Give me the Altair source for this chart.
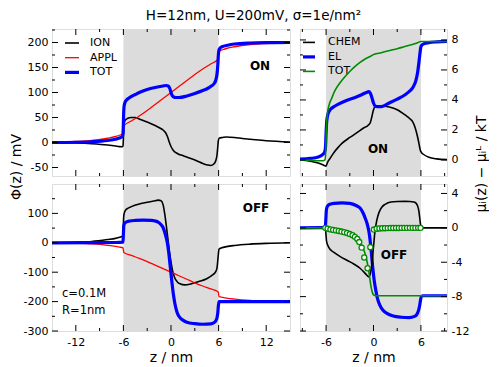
import altair as alt
import pandas as pd

# ---------------- data ----------------
band_z = [-6, 6]

# top-left: ON, potentials / mV
ion_on_z = [-15, -12, -10, -8, -7, -6.5, -6.15, -6.05, -5.97, -5.9, -5.8, -5.5, -5.0, -4.5, -4, -3, -2, -1.4,
            -1.0, -0.7, -0.45, -0.2, 0, 0.3, 0.8, 1.6, 2.5, 3.3, 4.0, 4.6, 5.0, 5.4, 5.65, 5.8, 5.9, 5.97,
            6.1, 6.5, 7, 8, 9, 10, 12, 15]
ion_on_v = [0, -1, -2.5, -5, -7, -8.3, -8.5, -7, 20, 38, 44, 48, 50, 50, 47, 41, 34, 29,
            25, 20, 12, 0, -8, -16, -22, -27, -32, -37, -42, -45, -46, -43, -36, -25, -8, 4,
            9, 10, 11, 10, 8, 6.5, 3.5, 1]
appl_z = [-15, -12, -10, -8, -7, -6.5, -6.05, -5.95, -5, -4, -3, -2, -1, 0, 1, 2, 3, 4, 5, 5.95, 6.05,
          6.5, 7, 8, 10, 12, 15]
appl_on_v = [0.5, 2, 4, 8.5, 12, 14.5, 17, 33, 43, 53, 64, 76, 88, 100, 112, 124, 136, 147, 157, 167, 183,
             185.5, 188, 191.5, 196, 198, 199.5]
tot_on_z = [-15, -12, -10, -8, -7, -6.5, -6.15, -6.05, -6.0, -5.95, -5.9, -5.8, -5.6, -5.3, -5.0, -4.5, -4,
            -3, -2, -1, -0.6, -0.35, -0.15, 0, 0.15, 0.35, 0.6, 1, 2, 3, 4, 4.6, 5.0, 5.4, 5.65, 5.8, 5.9,
            5.97, 6.05, 6.2, 6.5, 7, 8, 10, 12, 15]
tot_on_v = [0, 0.5, 1.5, 4, 6.5, 9, 12, 18, 40, 65, 74, 80, 85, 89, 92, 96, 100,
            106, 110, 113, 114, 113, 108, 100, 94, 91, 90, 90, 93, 98, 104, 108, 112, 117, 125, 137, 155,
            175, 185, 189, 192, 194, 197, 199, 199.7, 200]

# bottom-left: OFF, potentials / mV
ion_off_z = [-15, -12, -10, -8, -7, -6.5, -6.05, -5.97, -5.9, -5.7, -5.4, -5.0, -4, -3, -2.2, -1.6, -1.25,
             -1.0, -0.8, -0.6, -0.4, -0.2, 0, 0.2, 0.45, 0.8, 1.2, 1.7, 2.5, 3.5, 4.5, 5.2, 5.6, 5.8, 5.93,
             6.05, 6.4, 7, 8, 10, 12, 15]
ion_off_v = [0, 2, 4.5, 11, 15, 19, 23, 85, 100, 112, 118, 123, 132, 138, 142, 145, 143,
             130, 100, 60, 15, -30, -65, -95, -118, -133, -140, -143, -140, -132, -122, -110, -100, -85, -50,
             -22, -17, -13, -9, -4.5, -2, 0]
appl_off_v = [-0.5, -2, -4, -8.5, -12, -14.5, -17, -33, -43, -53, -64, -76, -88, -100, -112, -124, -136,
              -147, -157, -167, -183, -185.5, -188, -191.5, -196, -198, -199.5]
tot_off_z = [-15, -10, -7, -6.05, -6.0, -5.95, -5.85, -5.6, -5.2, -4.5, -3.5, -2.5, -2.0, -1.6, -1.3, -1.0,
             -0.75, -0.5, -0.3, -0.1, 0.1, 0.3, 0.5, 0.75, 1.0, 1.5, 2.0, 3.0, 4.0, 5.0, 5.4, 5.65, 5.8,
             5.9, 5.97, 6.05, 7, 10, 15]
tot_off_v = [0, 0.5, 1, 2, 30, 58, 66, 71, 74, 76, 77, 76, 74, 70, 63, 52,
             32, 5, -30, -80, -130, -175, -208, -235, -250, -263, -270, -275, -277, -276, -272, -265, -255,
             -238, -215, -200, -200, -200, -200]

# top-right: ON, chemical potentials / kT
chem_on_z = [-9.3, -8, -7, -6.5, -6.2, -6.05, -5.95, -5.8, -5.5, -5.0, -4.5, -4, -3, -2, -1.2, -0.7, -0.4,
             -0.2, 0, 0.2, 0.5, 1, 2, 3, 4, 4.6, 5.0, 5.3, 5.55, 5.75, 5.9, 6.05, 6.3, 7, 8, 9.3]
chem_on_v = [0, -0.08, -0.2, -0.3, -0.38, -0.42, -0.35, -0.15, 0.1, 0.5, 0.82, 1.1, 1.5, 1.85, 2.15, 2.3,
             2.5, 2.9, 3.35, 3.55, 3.6, 3.6, 3.53, 3.35, 3.0, 2.75, 2.5, 2.1, 1.6, 1.1, 0.7, 0.5, 0.38, 0.18,
             0.07, 0.02]
el_on_z = [-9.3, -8, -7, -6.5, -6.2, -6.08, -6.0, -5.93, -5.85, -5.7, -5.4, -5.0, -4.5, -3.5, -2.4, -1.5,
           -0.9, -0.6, -0.4, -0.2, 0, 0.2, 0.5, 1, 2, 3, 4, 4.6, 5.0, 5.35, 5.6, 5.77, 5.9, 5.98, 6.1, 6.4,
           7, 8, 9.3]
el_on_v = [0.05, 0.1, 0.2, 0.33, 0.5, 0.8, 1.8, 2.5, 2.85, 3.15, 3.4, 3.55, 3.7, 3.95, 4.15, 4.35,
           4.5, 4.55, 4.45, 4.15, 3.8, 3.6, 3.55, 3.56, 3.8, 4.05, 4.35, 4.6, 4.85, 5.27, 5.9, 6.6, 7.2,
           7.5, 7.65, 7.75, 7.82, 7.87, 7.9]
mtot_on_z = [-9.3, -8, -7, -6.4, -6.15, -6.05, -6.0, -5.95, -5.85, -5.6, -5.3, -4.9, -4.3, -3.7, -3,
             -2.4, -1.7, -1.15, -0.5, 0.1, 1, 1.8, 3, 3.9, 4.8, 5.6, 6.0, 7, 9.3]
mtot_on_v = [0, -0.02, -0.05, -0.05, 0.0, 0.5, 1.5, 2.3, 3.0, 3.7, 4.1, 4.6, 5.1, 5.5, 5.9,
             6.2, 6.5, 6.7, 6.88, 7.04, 7.15, 7.27, 7.42, 7.55, 7.68, 7.82, 7.9, 7.9, 7.9]

# bottom-right: OFF, chemical potentials / kT
chem_off_z = [-9.3, -6.1, -6.02, -5.95, -5.8, -5.5, -5.0, -4.2, -3.3, -2.5, -1.7, -1.2, -0.9, -0.7, -0.55,
              -0.4, -0.2, 0, 0.2, 0.4, 0.7, 1.05, 1.4, 1.7, 2.2, 3, 4, 4.6, 5.1, 5.4, 5.6, 5.75, 5.87, 5.95,
              6.05, 9.3]
chem_off_v = [0, 0, -0.7, -1.5, -2.0, -2.5, -2.85, -3.35, -3.8, -4.2, -4.7, -5.15, -5.45, -5.65, -5.7,
              -5.3, -4.2, -2.2, -0.3, 0.8, 1.8, 2.4, 2.7, 2.85, 3.0, 3.07, 3.08, 3.07, 3.0, 2.85, 2.5, 1.9,
              1.0, 0.4, 0, 0]
el_off_z = [-9.3, -6.1, -6.03, -5.97, -5.9, -5.75, -5.5, -5.0, -4, -3, -2.2, -1.7, -1.3, -1.0, -0.75, -0.5,
            -0.3, -0.1, 0.1, 0.3, 0.5, 0.8, 1.2, 1.7, 2.5, 3.5, 4.5, 5.2, 5.5, 5.7, 5.85, 5.95, 6.05, 6.2,
            9.3]
el_off_v = [0, 0.05, 1.0, 2.0, 2.35, 2.6, 2.75, 2.85, 2.9, 2.85, 2.6, 2.3, 1.7, 1.0, 0.3, -0.9,
            -2.6, -4.6, -6.2, -7.3, -8.2, -9.0, -9.6, -9.95, -10.25, -10.4, -10.45, -10.3, -10.05, -9.6,
            -9.0, -8.4, -8.0, -7.9, -7.9]
mtot_off_z = [-9.3, -6.0, -5.4, -4.8, -4.2, -3.6, -2.9, -2.4, -2.0, -1.6, -1.3, -1.0, -0.8, -0.6, -0.45,
              -0.3, -0.15, 0, 0.2, 0.5, 9.3]
mtot_off_v = [0, 0, -0.12, -0.25, -0.43, -0.6, -0.81, -1.05, -1.35, -1.8, -2.4, -3.2, -4.0, -5.0, -6.0,
              -6.9, -7.5, -7.8, -7.88, -7.9, -7.9]
sim_off_z = [-6.1, -5.8, -5.45, -5.1, -4.75, -4.4, -4.05, -3.7, -3.35, -3.0, -2.65, -2.35, -2.05, -1.8,
             -1.5, -1.17, -0.75, -0.4, 0.05, 0.4, 0.75, 1.1, 1.45, 1.8, 2.15, 2.5, 2.85, 3.2, 3.55, 3.9,
             4.25, 4.6, 4.95, 5.3, 5.65, 5.95]
sim_off_v = [0, -0.1, -0.18, -0.24, -0.3, -0.36, -0.43, -0.5, -0.6, -0.72, -0.86, -1.05, -1.3, -1.65,
             -2.3, -3.45, -4.7, -2.25, -0.2, -0.1, -0.07, -0.05, -0.04, -0.03, -0.02, -0.02, -0.01, -0.01,
             0, 0, 0, 0, 0, 0, 0, 0]

# axis ticks
xl_major = [-12, -6, 0, 6, 12]
xl_minor = [-9, -3, 3, 9]
xr_major = [-6, 0, 6]
xr_minor = [-9, -3, 3, 9]
ytl_major = [-50, 0, 50, 100, 150, 200]
ytl_minor = [-25, 25, 75, 125, 175, 225]
ybl_major = [-300, -200, -100, 0, 100]
ybl_minor = [-250, -150, -50, 50, 150]
ytr_major = [0, 2, 4, 6, 8]
ytr_minor = [1, 3, 5, 7]
ybr_major = [-12, -8, -4, 0, 4]
ybr_minor = [-10, -6, -2, 2]

legend_left = ["ION", "APPL", "TOT"]
legend_right = ["CHEM", "EL", "TOT"]

# ---------------- styling ----------------
FONT = "DejaVu Sans"
BLACK, RED, BLUE, GREEN, GRAY = "#000000", "#ff0000", "#0000ff", "#008b00", "#dcdcdc"
LW, RW, H = 238, 147, 147
HYPH = "datum.value < 0 ? '-' + format(-datum.value, 'd') : format(datum.value, 'd')"


def yaxis(values, orient, title=None, title_y=None, title_x=None, angle=None):
    kw = dict(values=values, orient=orient, ticks=False, domain=False, grid=False,
              labelFont=FONT, labelFontSize=11, labelColor="black", labelPadding=4,
              labelExpr=HYPH, labelOverlap=False, title=title)
    if title is not None:
        kw.update(titleFont=FONT, titleFontSize=14, titleFontWeight="normal", titleColor="black",
                  titleY=title_y)
        if title_x is not None:
            kw.update(titleX=title_x, titleBaseline="middle", titleAlign="center")
        if angle is not None:
            kw["titleAngle"] = angle
    return alt.Axis(**kw)


def xaxis(values):
    return alt.Axis(values=values, orient="bottom", ticks=False, domain=False, grid=False,
                    labelFont=FONT, labelFontSize=11, labelColor="black", labelPadding=5,
                    labelExpr=HYPH, labelOverlap=False, labelFlush=False,
                    title="z / nm", titleFont=FONT, titleFontSize=14, titleFontWeight="normal",
                    titleColor="black", titlePadding=3)


def panel(width, xdom, ydom, xax, yax, xmaj, xmin, ymaj, ymin, lines, legend=None, texts=(), points=None):
    xs = alt.Scale(domain=xdom, nice=False, zero=False)
    ys = alt.Scale(domain=ydom, nice=False, zero=False)
    X = lambda f: alt.X(f, scale=xs, axis=xax)
    Y = lambda f: alt.Y(f, scale=ys, axis=yax)
    layers = [alt.Chart(pd.DataFrame({"a": [band_z[0]], "b": [band_z[1]]})).mark_rect(color=GRAY).encode(
        x=X("a:Q"), x2="b:Q", y=alt.value(0), y2=alt.value(H))]
    if legend is not None:
        names, items, x0, x1, tx, y0, dy = legend
        for i, (name, (color, w)) in enumerate(zip(names, items)):
            d = pd.DataFrame({"label": [name]})
            yy = y0 + i * dy
            layers.append(alt.Chart(d).mark_rule(color=color, strokeWidth=w).encode(
                x=alt.value(x0), x2=alt.value(x1), y=alt.value(yy)))
            layers.append(alt.Chart(d).mark_text(align="left", baseline="middle", font=FONT, fontSize=11,
                                                 color="black").encode(
                x=alt.value(tx), y=alt.value(yy), text="label:N"))
    for z, v, color, w in lines:
        layers.append(alt.Chart(pd.DataFrame({"z": z, "v": v})).mark_line(
            color=color, strokeWidth=w, clip=True, interpolate="monotone").encode(x=X("z:Q"), y=Y("v:Q")))
    if points is not None:
        z, v = points
        layers.append(alt.Chart(pd.DataFrame({"z": z, "v": v})).mark_point(
            shape="circle", fill="white", stroke=GREEN, strokeWidth=1.3, size=26, opacity=1,
            fillOpacity=1).encode(x=X("z:Q"), y=Y("v:Q")))
    for vals, ln in ((xmaj, 6), (xmin, 3)):
        base = alt.Chart(pd.DataFrame({"t": vals})).mark_rule(color="black", strokeWidth=1)
        layers.append(base.encode(x=X("t:Q"), y=alt.value(H - ln), y2=alt.value(H)))
        layers.append(base.encode(x=X("t:Q"), y=alt.value(0), y2=alt.value(ln)))
    for vals, ln in ((ymaj, 6), (ymin, 3)):
        base = alt.Chart(pd.DataFrame({"t": vals})).mark_rule(color="black", strokeWidth=1)
        layers.append(base.encode(y=Y("t:Q"), x=alt.value(0), x2=alt.value(ln)))
        layers.append(base.encode(y=Y("t:Q"), x=alt.value(width - ln), x2=alt.value(width)))
    for txt, tx, ty, bold, size, align in texts:
        layers.append(alt.Chart(pd.DataFrame({"label": [txt]})).mark_text(
            align=align, baseline="middle", font=FONT, fontSize=size,
            fontWeight="bold" if bold else "normal", color="black").encode(
            x=alt.value(tx), y=alt.value(ty), text="label:N"))
    return alt.layer(*layers).properties(width=width, height=H)


tl = panel(LW, [-15, 15], [-67, 227], None,
           yaxis(ytl_major, "left", "Φ(z) / mV", 137.5),
           xl_major, xl_minor, ytl_major, ytl_minor,
           [(ion_on_z, ion_on_v, BLACK, 1.6), (appl_z, appl_on_v, RED, 1.3), (tot_on_z, tot_on_v, BLUE, 3.2)],
           legend=(legend_left, [(BLACK, 1.6), (RED, 1.3), (BLUE, 3.2)], 13, 27, 38, 14, 14.7),
           texts=[("ON", 208, 36.7, True, 12, "center")])
bl = panel(LW, [-15, 15], [-300, 200], xaxis(xl_major),
           yaxis(ybl_major, "left"),
           xl_major, xl_minor, ybl_major, ybl_minor,
           [(ion_off_z, ion_off_v, BLACK, 1.6), (appl_z, appl_off_v, RED, 1.3), (tot_off_z, tot_off_v, BLUE, 3.2)],
           texts=[("OFF", 204, 24.4, True, 12, "center"), ("c=0.1M", 10, 110.4, False, 11.5, "left"),
                  ("R=1nm", 10, 127, False, 11.5, "left")])
tr = panel(RW, [-9.3, 9.3], [-1.07, 8.73], None,
           yaxis(ytr_major, "right", "μᵢ(z) − μᵢᴸ / kT", 134.5, title_x=34, angle=270),
           xr_major, xr_minor, ytr_major, ytr_minor,
           [(chem_on_z, chem_on_v, BLACK, 1.6), (el_on_z, el_on_v, BLUE, 3.2), (mtot_on_z, mtot_on_v, GREEN, 1.6)],
           legend=(legend_right, [(BLACK, 1.6), (BLUE, 3.2), (GREEN, 1.6)], 3, 15, 28, 13.4, 14.5),
           texts=[("ON", 78, 120, True, 12, "center")])
br = panel(RW, [-9.3, 9.3], [-12, 5.1], xaxis(xr_major),
           yaxis(ybr_major, "right"),
           xr_major, xr_minor, ybr_major, ybr_minor,
           [(el_off_z, el_off_v, BLUE, 3.2), (chem_off_z, chem_off_v, BLACK, 1.6), (mtot_off_z, mtot_off_v, GREEN, 1.6)],
           points=(sim_off_z, sim_off_v),
           texts=[("OFF", 94, 71.4, True, 12, "center")])

chart = alt.concat(tl, tr, bl, br, columns=2, spacing={"row": 8, "column": 10}, bounds="flush").properties(
    title=alt.TitleParams("H=12nm, U=200mV, σ=1e/nm²", font=FONT, fontSize=13.5, fontWeight="normal",
                          color="black", anchor="middle", offset=6, dx=5),
    padding={"left": 0, "top": 0, "right": 0, "bottom": 0},
).configure_view(stroke="black", strokeWidth=1).configure(background="white")

chart.save("out.html", embed_options={"renderer": "svg", "actions": False})
